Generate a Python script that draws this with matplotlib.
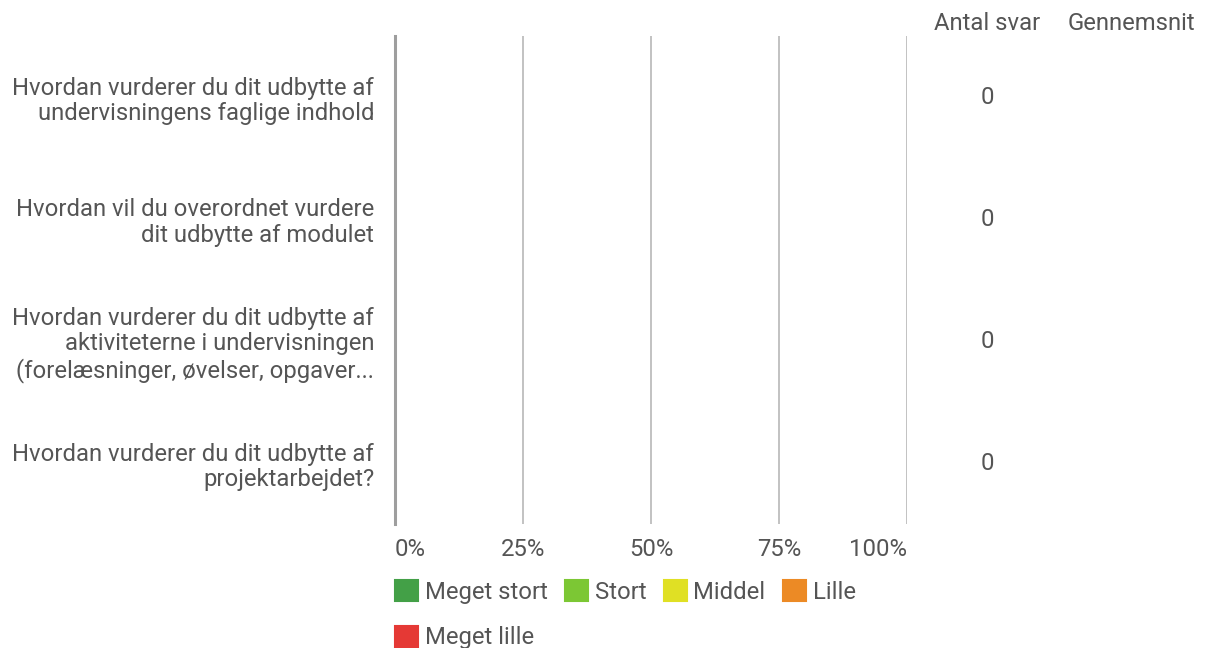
import matplotlib

matplotlib.use("Agg")
import matplotlib.pyplot as plt  # noqa: E402
from matplotlib.patches import Patch  # noqa: E402
import numpy as np  # noqa: E402

plt.rcParams["font.family"] = ["Roboto", "DejaVu Sans"]

questions = [
    "Hvordan vurderer du dit udbytte af\nundervisningens faglige indhold",
    "Hvordan vil du overordnet vurdere\ndit udbytte af modulet",
    "Hvordan vurderer du dit udbytte af\naktiviteterne i undervisningen\n(forelæsninger, øvelser, opgaver...",
    "Hvordan vurderer du dit udbytte af\nprojektarbejdet?",
]
categories = ["Meget stort", "Stort", "Middel", "Lille", "Meget lille"]
colors = ["#43a047", "#7cc734", "#e0e024", "#ec8a25", "#e53935"]
# responses per question per category (no answers yet)
counts = [
    [0, 0, 0, 0, 0],
    [0, 0, 0, 0, 0],
    [0, 0, 0, 0, 0],
    [0, 0, 0, 0, 0],
]
answer_totals = [0, 0, 0, 0]
averages = ["", "", "", ""]
x_ticks = [0, 25, 50, 75, 100]
x_tick_labels = ["0%", "25%", "50%", "75%", "100%"]

TEXT = "#555555"
FS = 17.2

fig = plt.figure(figsize=(12.05, 6.48), dpi=100)
fig.patch.set_facecolor("white")
ax = fig.add_axes([395 / 1205, 1 - 524 / 648, 512 / 1205, 488 / 648])

counts_arr = np.array(counts, dtype=float)
totals = counts_arr.sum(axis=1, keepdims=True)
pct = np.divide(counts_arr * 100, totals, out=np.zeros_like(counts_arr), where=totals > 0)
y = np.arange(len(questions))
left = np.zeros(len(questions))
for i, (cat, col) in enumerate(zip(categories, colors)):
    ax.barh(y, pct[:, i], left=left, height=0.6, color=col, label=cat, zorder=3)
    left += pct[:, i]

ax.set_xlim(0, 100)
ax.set_ylim(len(questions) - 0.5, -0.5)
ax.set_yticks(y)
ax.set_yticklabels(questions, fontsize=FS, color=TEXT, linespacing=1.13)
ax.set_xticks(x_ticks)
ax.set_xticklabels(x_tick_labels, fontsize=FS, color=TEXT)
xlabels = ax.get_xticklabels()
xlabels[0].set_ha("left")
xlabels[-1].set_ha("right")
ax.tick_params(axis="both", length=0)
ax.tick_params(axis="x", pad=10)
ax.tick_params(axis="y", pad=15)
for side in ["top", "right", "bottom"]:
    ax.spines[side].set_visible(False)
ax.spines["left"].set_color("#9e9e9e")
ax.spines["left"].set_linewidth(2.2)
for t in x_ticks[1:]:
    ax.axvline(t, color="#bdbdbd", linewidth=1.3, zorder=1)

# side columns
col_answers = (987 - 395) / 512
col_avg = (1131 - 395) / 512
ytr = ax.get_yaxis_transform()
ax.text(col_answers, 1 + 13 / 488, "Antal svar", transform=ax.transAxes, ha="center",
        va="center", fontsize=FS, color=TEXT, clip_on=False)
ax.text(col_avg, 1 + 13 / 488, "Gennemsnit", transform=ax.transAxes, ha="center",
        va="center", fontsize=FS, color=TEXT, clip_on=False)
for yi, n, avg in zip(y, answer_totals, averages):
    ax.text(col_answers, yi, str(n), transform=ytr, ha="center", va="center",
            fontsize=FS, color=TEXT, clip_on=False)
    ax.text(col_avg, yi, avg, transform=ytr, ha="center", va="center",
            fontsize=FS, color=TEXT, clip_on=False)

# legend: row-major order in 4 columns
handles = [Patch(facecolor=c, edgecolor=c, linewidth=1.5, joinstyle="round") for c in colors]
order = [0, 4, 1, 2, 3]
leg = fig.legend([handles[i] for i in order], [categories[i] for i in order],
                 ncol=4, loc="upper left", bbox_to_anchor=(395 / 1205, 1 - 580 / 648),
                 frameon=False, fontsize=FS, handlelength=0.97, handleheight=0.97,
                 handletextpad=0.28, columnspacing=0.72, labelspacing=0.92,
                 borderpad=0, borderaxespad=0, labelcolor=TEXT)

fig.savefig("out.png", dpi=100, facecolor=fig.get_facecolor())
